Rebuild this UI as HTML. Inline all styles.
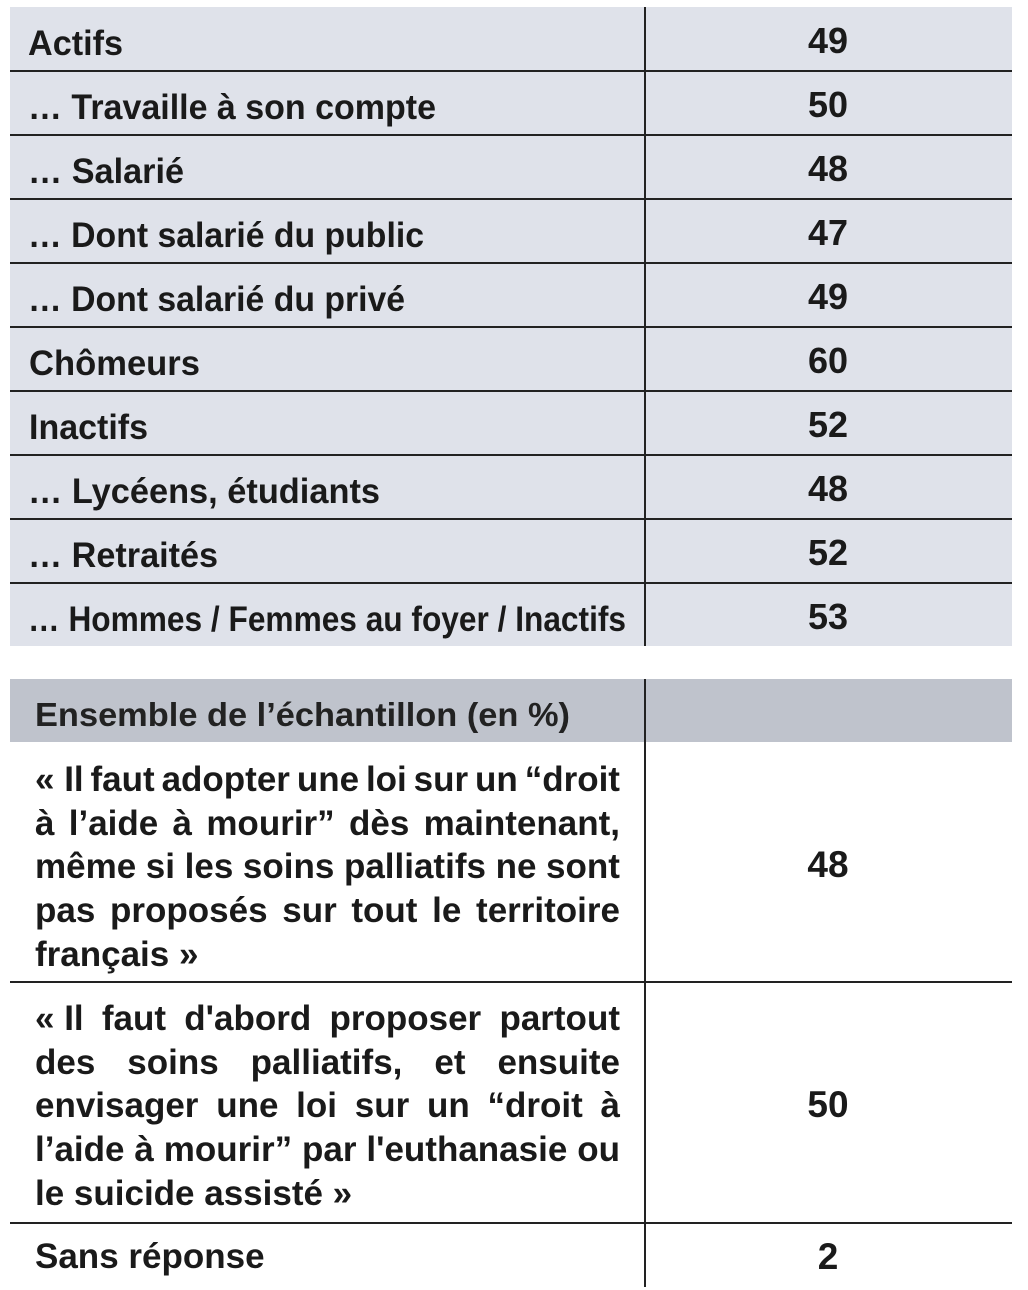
<!DOCTYPE html>
<html>
<head>
<meta charset="utf-8">
<style>
  html, body { margin:0; padding:0; background:#ffffff; }
  body { width:1028px; height:1290px; position:relative; overflow:hidden; }
  svg { position:absolute; left:0; top:0; }
  svg text { font-family:"Liberation Sans", Arial, sans-serif; font-weight:bold; fill:#1a1a1a; }
  .jl { position:absolute; left:35px; width:585px; display:flex; justify-content:space-between;
        font-family:"Liberation Sans", Arial, sans-serif; font-weight:bold; font-size:35px; line-height:35px;
        color:#1a1a1a; white-space:nowrap; }
  .jl span { white-space:pre; }
</style>
</head>
<body>
<svg width="1028" height="1290" viewBox="0 0 1028 1290" xmlns="http://www.w3.org/2000/svg">
  <!-- Table 1 background -->
  <rect x="10" y="7" width="1002" height="639" fill="#dfe2ea"/>
  <!-- Row separators -->
  <rect x="10" y="70" width="1002" height="2" fill="#222"/>
  <rect x="10" y="134" width="1002" height="2" fill="#222"/>
  <rect x="10" y="198" width="1002" height="2" fill="#222"/>
  <rect x="10" y="262" width="1002" height="2" fill="#222"/>
  <rect x="10" y="326" width="1002" height="2" fill="#222"/>
  <rect x="10" y="390" width="1002" height="2" fill="#222"/>
  <rect x="10" y="454" width="1002" height="2" fill="#222"/>
  <rect x="10" y="518" width="1002" height="2" fill="#222"/>
  <rect x="10" y="582" width="1002" height="2" fill="#222"/>
  <!-- vertical divider -->
  <rect x="644" y="7" width="2" height="639" fill="#222"/>

  <!-- Labels -->
  <text x="28" y="55" font-size="35" textLength="95" lengthAdjust="spacingAndGlyphs">Actifs</text>
  <text x="28" y="119" font-size="35" textLength="408" lengthAdjust="spacingAndGlyphs">… Travaille à son compte</text>
  <text x="28" y="183" font-size="35" textLength="156" lengthAdjust="spacingAndGlyphs">… Salarié</text>
  <text x="28" y="247" font-size="35" textLength="396" lengthAdjust="spacingAndGlyphs">… Dont salarié du public</text>
  <text x="28" y="311" font-size="35" textLength="377" lengthAdjust="spacingAndGlyphs">… Dont salarié du privé</text>
  <text x="29" y="375" font-size="35" textLength="171" lengthAdjust="spacingAndGlyphs">Chômeurs</text>
  <text x="29" y="439" font-size="35" textLength="119" lengthAdjust="spacingAndGlyphs">Inactifs</text>
  <text x="28" y="503" font-size="35" textLength="352" lengthAdjust="spacingAndGlyphs">… Lycéens, étudiants</text>
  <text x="28" y="567" font-size="35" textLength="190" lengthAdjust="spacingAndGlyphs">… Retraités</text>
  <text x="28" y="631" font-size="35" textLength="598" lengthAdjust="spacingAndGlyphs">… Hommes / Femmes au foyer / Inactifs</text>

  <!-- Numbers -->
  <text x="828" y="53" font-size="36" text-anchor="middle">49</text>
  <text x="828" y="117" font-size="36" text-anchor="middle">50</text>
  <text x="828" y="181" font-size="36" text-anchor="middle">48</text>
  <text x="828" y="245" font-size="36" text-anchor="middle">47</text>
  <text x="828" y="309" font-size="36" text-anchor="middle">49</text>
  <text x="828" y="373" font-size="36" text-anchor="middle">60</text>
  <text x="828" y="437" font-size="36" text-anchor="middle">52</text>
  <text x="828" y="501" font-size="36" text-anchor="middle">48</text>
  <text x="828" y="565" font-size="36" text-anchor="middle">52</text>
  <text x="828" y="629" font-size="36" text-anchor="middle">53</text>

  <!-- Table 2 header -->
  <rect x="10" y="679" width="1002" height="63" fill="#bfc3cc"/>
  <rect x="644" y="679" width="2" height="608" fill="#222"/>
  <rect x="10" y="981" width="1002" height="2" fill="#222"/>
  <rect x="10" y="1222" width="1002" height="2" fill="#222"/>

  <text x="35" y="726" font-size="33" textLength="535" lengthAdjust="spacingAndGlyphs" style="fill:#222">Ensemble de l’échantillon (en %)</text>

  <text x="35" y="966" font-size="35">français »</text>
  <text x="35" y="1205" font-size="35">le suicide assisté »</text>
  <text x="35" y="1268" font-size="35">Sans réponse</text>

  <text x="828" y="877" font-size="37" text-anchor="middle">48</text>
  <text x="828" y="1117" font-size="37" text-anchor="middle">50</text>
  <text x="828" y="1269" font-size="37" text-anchor="middle">2</text>
</svg>

<!-- Paragraph 1 justified lines -->
<div class="jl" style="top:762.4px"><span>« Il</span><span>faut</span><span>adopter</span><span>une</span><span>loi</span><span>sur</span><span>un</span><span>“droit</span></div>
<div class="jl" style="top:805.9px"><span>à</span><span>l’aide</span><span>à</span><span>mourir”</span><span>dès</span><span>maintenant,</span></div>
<div class="jl" style="top:849.4px"><span>même</span><span>si</span><span>les</span><span>soins</span><span>palliatifs</span><span>ne</span><span>sont</span></div>
<div class="jl" style="top:892.9px"><span>pas</span><span>proposés</span><span>sur</span><span>tout</span><span>le</span><span>territoire</span></div>

<!-- Paragraph 2 justified lines -->
<div class="jl" style="top:1001.4px"><span>« Il</span><span>faut</span><span>d'abord</span><span>proposer</span><span>partout</span></div>
<div class="jl" style="top:1044.9px"><span>des</span><span>soins</span><span>palliatifs,</span><span>et</span><span>ensuite</span></div>
<div class="jl" style="top:1088.4px"><span>envisager</span><span>une</span><span>loi</span><span>sur</span><span>un</span><span>“droit</span><span>à</span></div>
<div class="jl" style="top:1131.9px"><span>l’aide</span><span>à</span><span>mourir”</span><span>par</span><span>l'euthanasie</span><span>ou</span></div>
</body>
</html>
